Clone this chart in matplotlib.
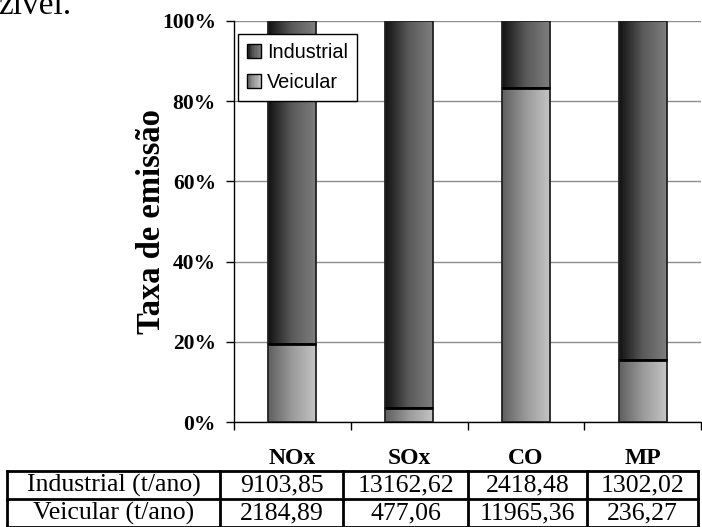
import numpy as np
import matplotlib
matplotlib.use("Agg")
import matplotlib.pyplot as plt
from matplotlib.patches import Rectangle
from matplotlib.legend_handler import HandlerBase
from matplotlib.colors import LinearSegmentedColormap

# Emission data (t/ano)
poluentes = ["NOx", "SOx", "CO", "MP"]
industrial = [9103.85, 13162.62, 2418.48, 1302.02]
veicular = [2184.89, 477.06, 11965.36, 236.27]
industrial_txt = ["9103,85", "13162,62", "2418,48", "1302,02"]
veicular_txt = ["2184,89", "477,06", "11965,36", "236,27"]
yticks = [0, 20, 40, 60, 80, 100]

SERIF = "Liberation Serif"
SANS = "Liberation Sans"

W, H = 702, 527
fig = plt.figure(figsize=(W / 100, H / 100), dpi=100)

ind = np.array(industrial)
vei = np.array(veicular)
tot = ind + vei
pct_vei = vei / tot * 100
pct_ind = ind / tot * 100

ax_l, ax_r, ax_t, ax_b = 234, 701, 21, 422
ax = fig.add_axes([ax_l / W, 1 - ax_b / H, (ax_r - ax_l) / W, (ax_b - ax_t) / H])

x = np.arange(len(poluentes))
bw = 0.41

cmap_ind = LinearSegmentedColormap.from_list("ind", ["#111111", "#5a5a5a", "#7e7e7e"])
cmap_vei = LinearSegmentedColormap.from_list("vei", ["#5e5e5e", "#9a9a9a", "#c4c4c4"])
grad = np.linspace(0, 1, 256).reshape(1, -1)

bars_v = ax.bar(x, pct_vei, bw, facecolor="none", edgecolor="#222222", linewidth=1.3, zorder=4)
bars_i = ax.bar(x, pct_ind, bw, bottom=pct_vei, facecolor="none", edgecolor="#222222",
                linewidth=1.3, zorder=4)

for bars, cm in ((bars_v, cmap_vei), (bars_i, cmap_ind)):
    for p in bars:
        x0, y0, w, h = p.get_x(), p.get_y(), p.get_width(), p.get_height()
        ax.imshow(grad, cmap=cm, aspect="auto", extent=(x0, x0 + w, y0, y0 + h),
                  interpolation="bilinear", zorder=3)

# boundary between the two series
for p in bars_v:
    ax.plot([p.get_x(), p.get_x() + p.get_width()], [p.get_height()] * 2,
            color="black", linewidth=2.0, zorder=5, solid_capstyle="butt")

ax.set_xlim(-0.5, len(poluentes) - 0.5)
ax.set_ylim(0, 100)
ax.set_yticks(yticks)
ax.set_yticklabels([f"{v}%" for v in yticks], fontfamily=SERIF, fontweight="bold", fontsize=15.5)
ax.yaxis.grid(True, color="#8c8c8c", linewidth=1.0, zorder=1)
ax.set_axisbelow(True)

ax.set_xticks(np.arange(len(poluentes) + 1) - 0.5)
ax.set_xticklabels([])
ax.tick_params(axis="both", direction="out", length=6, width=1.0, color="black")
ax.tick_params(axis="y", pad=7)
for s in ("top", "right"):
    ax.spines[s].set_visible(False)
for s in ("left", "bottom"):
    ax.spines[s].set_linewidth(1.0)

# category labels above the table
for i, name in enumerate(poluentes):
    ax.annotate(name, xy=(i, 0), xycoords=("data", "axes fraction"),
                xytext=(0, -(459 - ax_b)), textcoords="offset pixels",
                ha="center", va="center", fontfamily=SERIF, fontweight="bold", fontsize=17)

ax.set_ylabel("Taxa de emissão", fontfamily=SERIF, fontweight="bold", fontsize=23.5)
ax.yaxis.set_label_coords((151 - ax_l) / (ax_r - ax_l), 0.5)
ax.yaxis.label.set_va("center")


class GradientHandler(HandlerBase):
    def __init__(self, cmap):
        super().__init__()
        self.cmap = cmap

    def create_artists(self, legend, orig_handle, xdescent, ydescent, width, height,
                       fontsize, trans):
        side = min(width, height) * 1.0
        x0 = xdescent + width - side
        y0 = -ydescent + (height - side) / 2
        arts = []
        n = 10
        for k in range(n):
            arts.append(Rectangle((x0 + k * side / n, y0), side / n + 0.3, side,
                                  facecolor=self.cmap((k + 0.5) / n), edgecolor="none",
                                  transform=trans))
        arts.append(Rectangle((x0, y0), side, side, facecolor="none", edgecolor="black",
                              linewidth=1.0, transform=trans))
        return arts


h_ind = Rectangle((0, 0), 1, 1)
h_vei = Rectangle((0, 0), 1, 1)
leg = ax.legend([h_ind, h_vei], ["Industrial", "Veicular"],
                handler_map={h_ind: GradientHandler(cmap_ind), h_vei: GradientHandler(cmap_vei)},
                loc="upper left", bbox_to_anchor=((238 - ax_l) / (ax_r - ax_l), 1 - (34 - ax_t) / (ax_b - ax_t)),
                borderaxespad=0, frameon=True, fancybox=False, framealpha=1, edgecolor="black",
                prop={"family": SANS, "size": 14.3}, handlelength=0.7, handleheight=0.7,
                handletextpad=0.3, borderpad=0.45, labelspacing=0.55)
leg.get_frame().set_linewidth(1.0)
leg.set_zorder(10)

# data table below the chart
tab_left, tab_cols = 7, [220, 343, 468, 587, 698]
row_y = [471, 499, 527]
lw = 2.0
rows = [("Industrial (t/ano)", industrial_txt), ("Veicular (t/ano)", veicular_txt)]
edges = [tab_left] + tab_cols
for yy in row_y:
    fig.add_artist(plt.Line2D([tab_left / W, tab_cols[-1] / W], [1 - yy / H] * 2,
                              color="black", linewidth=lw))
for xx in edges:
    fig.add_artist(plt.Line2D([xx / W] * 2, [1 - row_y[0] / H, 1 - row_y[-1] / H],
                              color="black", linewidth=lw))
for r, (label, vals) in enumerate(rows):
    yc = 1 - (row_y[r] + row_y[r + 1]) / 2 / H
    fig.text((edges[0] + edges[1]) / 2 / W, yc, label, ha="center", va="center",
             fontfamily=SERIF, fontsize=18.5)
    for c, v in enumerate(vals):
        fig.text((edges[c + 1] + edges[c + 2]) / 2 / W, yc, v, ha="center", va="center",
                 fontfamily=SERIF, fontsize=18.5)

# tail of the preceding paragraph
fig.text(-2 / W, 1 - 14 / H, "zível.", ha="left", va="baseline", fontfamily=SERIF, fontsize=24)

fig.savefig("out.png", dpi=100)
